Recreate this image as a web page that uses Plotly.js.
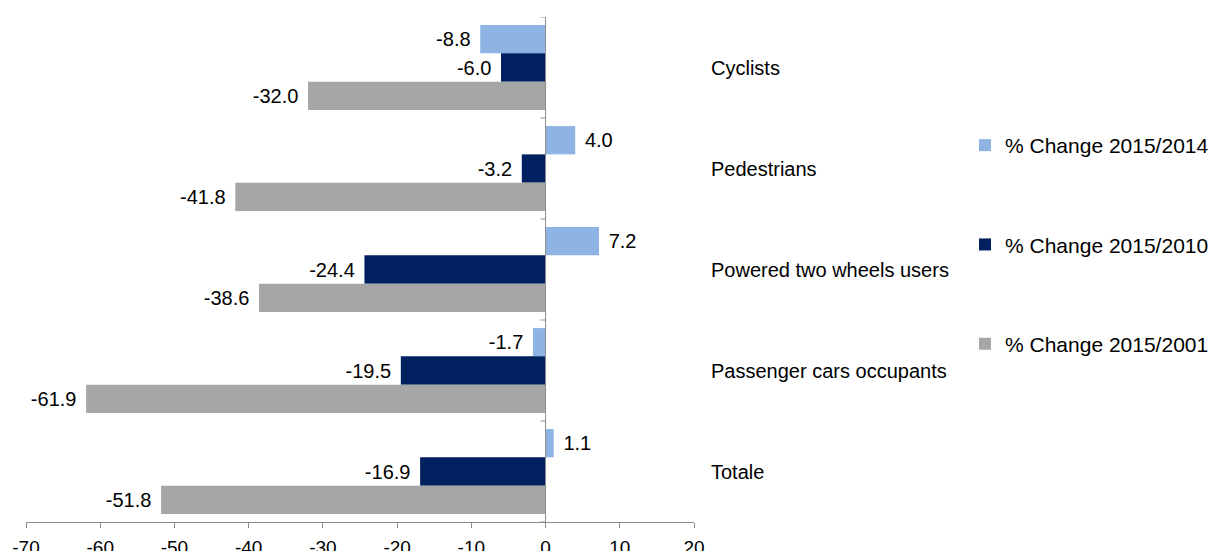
<!DOCTYPE html>
<html>
<head>
<meta charset="utf-8">
<script src="https://cdn.plot.ly/plotly-3.0.1.min.js"></script>
<style>html,body{margin:0;padding:0;background:#fff;}#chart{width:1209px;height:551px;}</style>
</head>
<body>
<div id="chart"></div>
<script>
const categories = ["Cyclists", "Pedestrians", "Powered two wheels users", "Passenger cars occupants", "Totale"];
const seriesNames = ["% Change 2015/2014", "% Change 2015/2010", "% Change 2015/2001"];
const change2014 = [-8.8, 4.0, 7.2, -1.7, 1.1];
const change2010 = [-6.0, -3.2, -24.4, -19.5, -16.9];
const change2001 = [-32.0, -41.8, -38.6, -61.9, -51.8];
const xTicks = [-70, -60, -50, -40, -30, -20, -10, 0, 10, 20];
const xTickText = ["-70", "-60", "-50", "-40", "-30", "-20", "-10", "0", "10", "20"];

const colors = ["#8EB4E3", "#002060", "#A6A6A6"];
const FONT = "Liberation Sans, Arial, sans-serif";
const PAD = "\u2004";

function labels(vals) {
  return vals.map(v => v < 0 ? v.toFixed(1) + PAD : PAD + v.toFixed(1));
}

const seriesValues = [change2014, change2010, change2001];
const traces = seriesValues.map((vals, i) => ({
  type: "bar",
  orientation: "h",
  name: seriesNames[i],
  legendgroup: "g" + i,
  x: vals,
  y: categories,
  marker: {color: colors[i], line: {width: 0}},
  text: labels(vals),
  textposition: "outside",
  constraintext: "none",
  cliponaxis: false,
  textfont: {family: FONT, size: 20, color: "#000"},
  hoverinfo: "skip"
}));

const axisColor = "#8C8C8C";
const shapes = [{
  type: "line", xref: "x", yref: "paper", x0: 0, x1: 0, y0: 0, y1: 1,
  line: {color: axisColor, width: 1}, layer: "above"
}];
for (let k = 0; k <= categories.length; k++) {
  shapes.push({
    type: "line", xref: "x", yref: "y", xsizemode: "pixel", xanchor: 0,
    x0: -5, x1: 0, y0: k - 0.5, y1: k - 0.5,
    line: {color: axisColor, width: 1}, layer: "above"
  });
}

const layout = {
  width: 1209, height: 551,
  margin: {l: 25.7, r: 514.7, t: 16.7, b: 28.5, pad: 0},
  paper_bgcolor: "#fff", plot_bgcolor: "#fff",
  font: {family: FONT, size: 20, color: "#000"},
  barmode: "group", bargap: 0.16, bargroupgap: 0,
  hovermode: false,
  xaxis: {
    range: [-70, 20], tickmode: "array", tickvals: xTicks, ticktext: xTickText,
    showgrid: false, zeroline: false,
    showline: true, linecolor: axisColor, linewidth: 1,
    ticks: "outside", ticklen: 5, tickcolor: axisColor,
    tickfont: {family: FONT, size: 19, color: "#000"},
    ticklabelstandoff: 3, automargin: false, fixedrange: true
  },
  yaxis: {
    type: "category", categoryarray: categories, categoryorder: "array",
    range: [categories.length - 0.5, -0.5],
    side: "right", showline: false, showgrid: false, zeroline: false,
    ticks: "", ticklabelstandoff: 16,
    tickfont: {family: FONT, size: 20, color: "#000"},
    automargin: false, fixedrange: true
  },
  showlegend: true,
  legend: {
    xref: "container", yref: "container",
    x: 965 / 1209, y: 1 - 125 / 551, xanchor: "left", yanchor: "top",
    font: {family: FONT, size: 21, color: "#000"},
    tracegroupgap: 69, bgcolor: "rgba(0,0,0,0)", borderwidth: 0
  },
  shapes: shapes
};

Plotly.newPlot("chart", traces, layout, {staticPlot: true, displayModeBar: false});
</script>
</body>
</html>
